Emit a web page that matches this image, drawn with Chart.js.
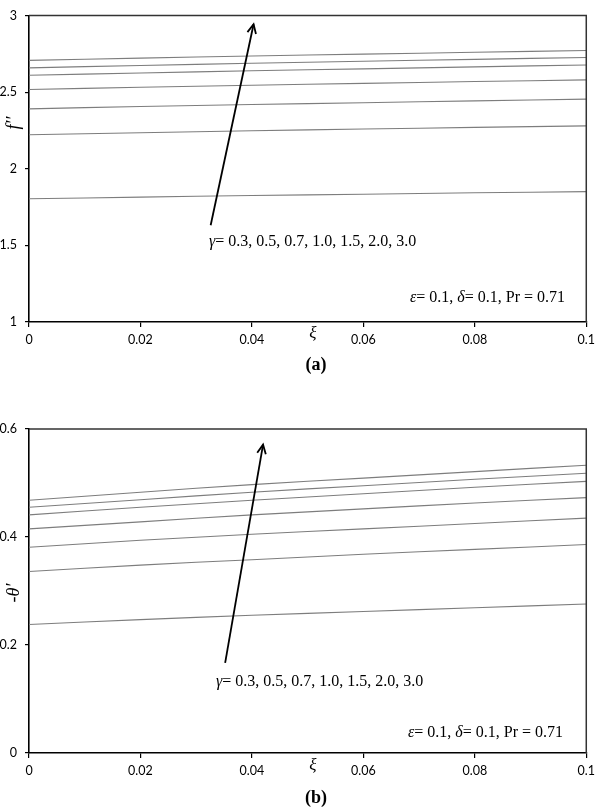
<!DOCTYPE html>
<html>
<head>
<meta charset="utf-8">
<script src="https://cdn.jsdelivr.net/npm/chart.js@4"></script>
<style>
  html, body { margin:0; padding:0; background:#fff; }
  body { width:600px; height:808px; position:relative; overflow:hidden; }
  .wrap { position:absolute; left:0; width:600px; }
</style>
</head>
<body>
<div class="wrap" style="top:0;height:380px;"><canvas id="ca"></canvas></div>
<div class="wrap" style="top:390px;height:418px;"><canvas id="cb"></canvas></div>
<script>
// ---- data ----
const xi = [0, 0.02, 0.04, 0.06, 0.08, 0.1];
const gammaLabels = ['0.3', '0.5', '0.7', '1.0', '1.5', '2.0', '3.0'];

// (a) f''  for gamma = 0.3 ... 3.0
const fA_g03 = [1.804, 1.815, 1.825, 1.834, 1.843, 1.851];
const fA_g05 = [2.222, 2.235, 2.248, 2.259, 2.270, 2.280];
const fA_g07 = [2.391, 2.406, 2.419, 2.431, 2.443, 2.454];
const fA_g10 = [2.517, 2.532, 2.545, 2.557, 2.569, 2.580];
const fA_g15 = [2.610, 2.625, 2.639, 2.652, 2.665, 2.677];
const fA_g20 = [2.658, 2.674, 2.688, 2.701, 2.714, 2.726];
const fA_g30 = [2.707, 2.722, 2.736, 2.748, 2.760, 2.772];

// (b) -theta'  for gamma = 0.3 ... 3.0
const tB_g03 = [0.238, 0.247, 0.255, 0.262, 0.269, 0.276];
const tB_g05 = [0.336, 0.348, 0.358, 0.368, 0.377, 0.386];
const tB_g07 = [0.381, 0.394, 0.405, 0.415, 0.425, 0.435];
const tB_g10 = [0.415, 0.428, 0.441, 0.452, 0.463, 0.473];
const tB_g15 = [0.441, 0.455, 0.468, 0.480, 0.492, 0.503];
const tB_g20 = [0.455, 0.469, 0.483, 0.495, 0.507, 0.518];
const tB_g30 = [0.468, 0.483, 0.497, 0.509, 0.521, 0.533];

const xTicks = ['0', '0.02', '0.04', '0.06', '0.08', '0.1'];
const yTicksA = ['1', '1.5', '2', '2.5', '3'];
const yTicksB = ['0', '0.2', '0.4', '0.6'];

// annotation anchors (data coords): arrow tail, arrow head
const arrowA = [[0.0326, 1.631], [0.0403, 2.943]];
const arrowB = [[0.0352, 0.167], [0.0420, 0.571]];

// ---- helpers ----
const LINE_COLOR = '#7d7d7d';
function mkDatasets(seriesList) {
  return seriesList.map((vals, k) => ({
    label: 'γ = ' + gammaLabels[k],
    data: xi.map((x, i) => ({ x: x, y: vals[i] })),
    borderColor: LINE_COLOR,
    borderWidth: 1.1,
    pointRadius: 0,
    fill: false,
    tension: 0.3
  }));
}

function annotPlugin(opts) {
  return {
    id: 'annot_' + opts.tag,
    afterDraw(chart) {
      const ctx = chart.ctx;
      const a = chart.chartArea;
      const xs = chart.scales.x, ys = chart.scales.y;
      ctx.save();
      // top & right frame
      ctx.strokeStyle = '#333';
      ctx.lineWidth = 1.5;
      ctx.beginPath();
      ctx.moveTo(a.left, a.top);
      ctx.lineTo(a.right, a.top);
      ctx.lineTo(a.right, a.bottom);
      ctx.stroke();

      // arrow
      const tx = xs.getPixelForValue(opts.arrow[0][0]), ty = ys.getPixelForValue(opts.arrow[0][1]);
      const hx = xs.getPixelForValue(opts.arrow[1][0]), hy = ys.getPixelForValue(opts.arrow[1][1]);
      ctx.strokeStyle = '#000';
      ctx.lineWidth = 1.8;
      ctx.beginPath();
      ctx.moveTo(tx, ty);
      ctx.lineTo(hx, hy);
      ctx.stroke();
      const ang = Math.atan2(hy - ty, hx - tx);
      const L = 10, spread = 0.45;
      ctx.beginPath();
      ctx.moveTo(hx - L * Math.cos(ang - spread), hy - L * Math.sin(ang - spread));
      ctx.lineTo(hx, hy);
      ctx.lineTo(hx - L * Math.cos(ang + spread), hy - L * Math.sin(ang + spread));
      ctx.stroke();

      // gamma text
      ctx.fillStyle = '#000';
      ctx.textBaseline = 'middle';
      ctx.textAlign = 'left';
      let gx = opts.gammaPos[0], gy = opts.gammaPos[1];
      ctx.font = 'italic 16px "Liberation Serif", serif';
      ctx.fillText('γ', gx, gy);
      gx += ctx.measureText('γ').width;
      ctx.font = '16px "Liberation Serif", serif';
      ctx.fillText('= ' + gammaLabels.join(', '), gx, gy);

      // parameter text
      let px = opts.paramPos[0], py = opts.paramPos[1];
      const parts = [['ε', true], ['= 0.1, ', false], ['δ', true], ['= 0.1, Pr = 0.71', false]];
      parts.forEach(p => {
        ctx.font = (p[1] ? 'italic ' : '') + '16px "Liberation Serif", serif';
        ctx.fillText(p[0], px, py);
        px += ctx.measureText(p[0]).width;
      });

      // x axis title
      ctx.textAlign = 'center';
      ctx.font = 'italic 17px "Liberation Serif", serif';
      ctx.fillText('ξ', opts.xiPos[0], opts.xiPos[1]);

      // y axis title (rotated)
      ctx.save();
      ctx.translate(opts.yTitlePos[0], opts.yTitlePos[1]);
      ctx.rotate(-Math.PI / 2);
      ctx.font = 'italic 18px "Liberation Serif", serif';
      ctx.fillText(opts.yTitle, 0, 0);
      ctx.restore();

      // panel label
      ctx.font = 'bold 18px "Liberation Serif", serif';
      ctx.fillText(opts.panel, opts.panelPos[0], opts.panelPos[1]);
      ctx.restore();
    }
  };
}

function mkChart(id, series, yMin, yMax, yStep, yTicks, padTop, xAxisH, plugin) {
  return new Chart(document.getElementById(id), {
    type: 'line',
    data: { datasets: mkDatasets(series) },
    options: {
      responsive: true,
      maintainAspectRatio: false,
      animation: false,
      layout: { padding: { top: padTop, right: 8, left: 0, bottom: 0 } },
      plugins: { legend: { display: false }, tooltip: { enabled: false } },
      scales: {
        x: {
          type: 'linear', min: 0, max: 0.1,
          afterBuildTicks(s) { s.ticks = xi.map(v => ({ value: v })); },
          afterFit(s) { s.height = xAxisH; },
          ticks: {
            callback: (v, i) => xTicks[i],
            color: '#000', padding: 5, maxRotation: 0,
            font: { family: 'Lato, "Open Sans", sans-serif', size: 12.5 }
          },
          grid: { drawOnChartArea: false, drawTicks: true, tickLength: 5, color: '#000', lineWidth: 1.2 },
          border: { display: true, color: '#000', width: 1.6 }
        },
        y: {
          type: 'linear', min: yMin, max: yMax,
          afterBuildTicks(s) { s.ticks = yTicks.map(t => ({ value: parseFloat(t) })); },
          afterFit(s) { s.width = 29; },
          ticks: {
            callback: (v, i) => yTicks[i],
            color: '#000', padding: 8,
            font: { family: 'Lato, "Open Sans", sans-serif', size: 12.5 }
          },
          grid: { drawOnChartArea: false, drawTicks: true, tickLength: 4, color: '#000', lineWidth: 1.2 },
          border: { display: true, color: '#000', width: 1.6 }
        }
      }
    },
    plugins: [plugin]
  });
}

mkChart('ca', [fA_g03, fA_g05, fA_g07, fA_g10, fA_g15, fA_g20, fA_g30], 1, 3, 0.5, yTicksA, 6, 58,
  annotPlugin({
    tag: 'a', arrow: arrowA,
    gammaPos: [209, 242], paramPos: [410, 298],
    xiPos: [313, 334], yTitle: 'f\u2032\u2032', yTitlePos: [14, 123],
    panel: '(a)', panelPos: [316, 365]
  }));

mkChart('cb', [tB_g03, tB_g05, tB_g07, tB_g10, tB_g15, tB_g20, tB_g30], 0, 0.6, 0.2, yTicksB, 39, 55,
  annotPlugin({
    tag: 'b', arrow: arrowB,
    gammaPos: [216, 292], paramPos: [408, 343],
    xiPos: [313, 376], yTitle: '-θ\u2032', yTitlePos: [14, 203],
    panel: '(b)', panelPos: [316, 408]
  }));
</script>
</body>
</html>
